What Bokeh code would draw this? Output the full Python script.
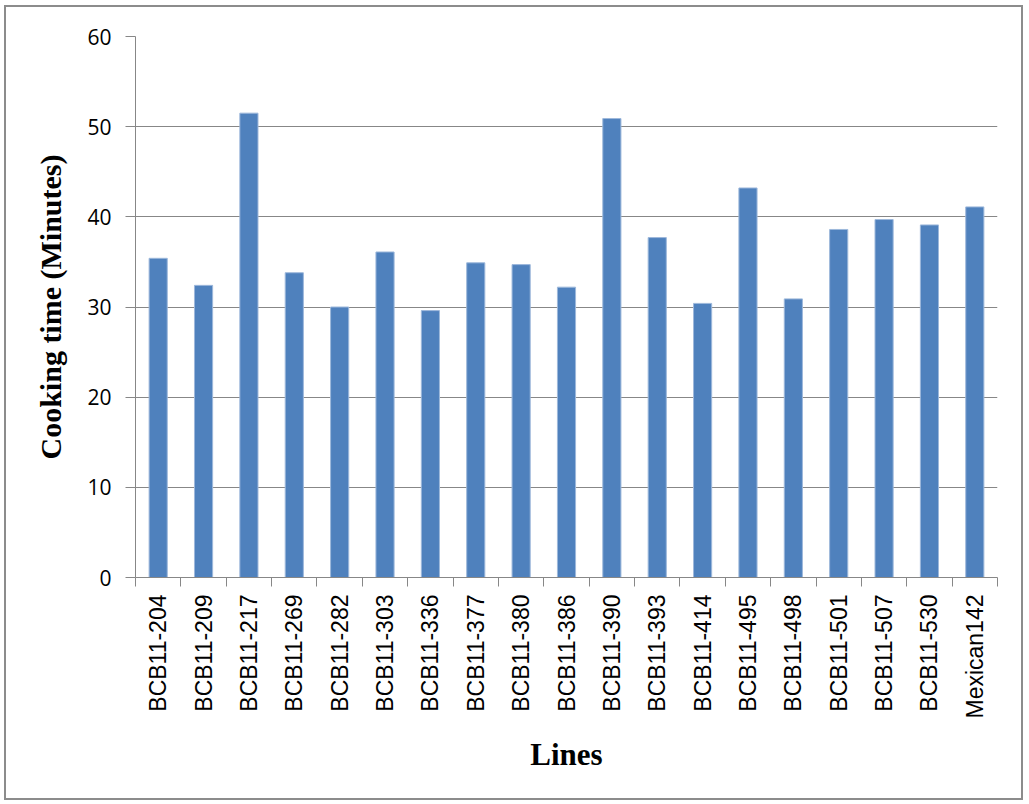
import math

from bokeh.plotting import figure
from bokeh.models import ColumnDataSource, FixedTicker, Range1d
from bokeh.embed import file_html
from bokeh.resources import INLINE

# Cooking time per bean line
lines = ["BCB11-204", "BCB11-209", "BCB11-217", "BCB11-269", "BCB11-282",
         "BCB11-303", "BCB11-336", "BCB11-377", "BCB11-380", "BCB11-386",
         "BCB11-390", "BCB11-393", "BCB11-414", "BCB11-495", "BCB11-498",
         "BCB11-501", "BCB11-507", "BCB11-530", "Mexican142"]
cooking_time = [35.4, 32.4, 51.5, 33.8, 30.0,
                36.1, 29.6, 34.9, 34.7, 32.2,
                50.9, 37.7, 30.4, 43.2, 30.9,
                38.6, 39.7, 39.1, 41.1]
y_ticks = [0, 10, 20, 30, 40, 50, 60]

positions = list(range(1, len(lines) + 1))
source = ColumnDataSource(dict(x=positions, top=cooking_time, name=lines))

GRID = "#878787"

p = figure(width=1019, height=795, output_backend="svg", toolbar_location=None,
           x_range=Range1d(0.5, len(lines) + 0.5), y_range=Range1d(0, 60),
           min_border_left=129, min_border_top=29, min_border_right=28,
           min_border_bottom=225)
p.styles = {"border": "2px solid #8c8c8c", "margin-left": "4px", "margin-top": "5px"}
p.outline_line_color = None
p.background_fill_color = "white"
p.border_fill_color = "white"

p.vbar(x="x", top="top", bottom=0, width=0.4, source=source,
       fill_color="#4f81bd", line_color="#9db8db", line_width=1)

# x axis: category labels centred, tick marks between categories
xa = p.xaxis[0]
xa.ticker = FixedTicker(ticks=positions,
                        minor_ticks=[i + 0.5 for i in range(len(lines) + 1)])
xa.major_label_overrides = {pos: name for pos, name in zip(positions, lines)}
xa.major_label_orientation = math.pi / 2
xa.major_tick_line_color = None
xa.minor_tick_line_color = GRID
xa.minor_tick_out = 9
xa.minor_tick_in = 0
xa.axis_line_color = GRID
xa.major_label_text_font = "Liberation Sans"
xa.major_label_text_font_size = "23px"
xa.major_label_text_color = "#000000"
xa.major_label_standoff = 8
xa.axis_label = "Lines"
xa.axis_label_text_font = "Liberation Serif"
xa.axis_label_text_font_style = "bold"
xa.axis_label_text_font_size = "31px"
xa.axis_label_text_color = "#000000"
xa.axis_label_standoff = 15

ya = p.yaxis[0]
ya.ticker = FixedTicker(ticks=y_ticks)
ya.minor_tick_line_color = None
ya.major_tick_line_color = GRID
ya.major_tick_out = 10
ya.major_tick_in = 0
ya.axis_line_color = GRID
ya.major_label_text_font = "Open Sans"
ya.major_label_text_font_size = "21px"
ya.major_label_text_color = "#000000"
ya.major_label_standoff = 14
ya.axis_label = "Cooking time (Minutes)"
ya.axis_label_text_font = "Liberation Serif"
ya.axis_label_text_font_style = "bold"
ya.axis_label_text_font_size = "30px"
ya.axis_label_text_color = "#000000"
ya.axis_label_standoff = 17

p.xgrid.grid_line_color = None
p.ygrid.grid_line_color = GRID
p.ygrid.grid_line_width = 1

open("out.html", "w").write(file_html(p, INLINE))
